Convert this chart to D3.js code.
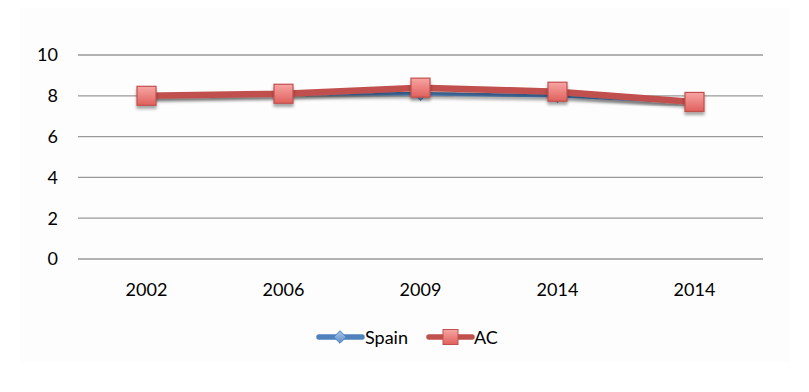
<!DOCTYPE html>
<html>
<head>
<meta charset="utf-8">
<script src="https://cdn.jsdelivr.net/npm/d3@7"></script>
<style>
body { margin: 0; background: #fff; }
text { font-family: Lato, "Open Sans", "Liberation Sans", sans-serif; fill: #000; }
</style>
</head>
<body>
<script>
var categories = ["2002", "2006", "2009", "2014", "2014 "];
var spainValues = [8.0, 8.1, 8.1, 8.0, 7.7];
var acValues = [8.0, 8.1, 8.4, 8.2, 7.7];
var yTicks = [0, 2, 4, 6, 8, 10];

var width = 809, height = 392;
var svg = d3.select("body").append("svg").attr("width", width).attr("height", height);

var defs = svg.append("defs");
var grad = defs.append("linearGradient").attr("id", "sq").attr("x1", 0).attr("y1", 0).attr("x2", 0).attr("y2", 1);
grad.append("stop").attr("offset", "0%").attr("stop-color", "#f7a6a4");
grad.append("stop").attr("offset", "100%").attr("stop-color", "#e0605c");
var dgrad = defs.append("linearGradient").attr("id", "dm").attr("x1", 0).attr("y1", 0).attr("x2", 0).attr("y2", 1);
dgrad.append("stop").attr("offset", "0%").attr("stop-color", "#a9c4e6");
dgrad.append("stop").attr("offset", "100%").attr("stop-color", "#5f8fcc");
var shadow = defs.append("filter").attr("id", "shadow").attr("x", "-50%").attr("y", "-50%").attr("width", "200%").attr("height", "200%");
shadow.append("feDropShadow").attr("dx", 0).attr("dy", 3).attr("stdDeviation", 1.6).attr("flood-color", "#000").attr("flood-opacity", 0.35);

// faint chart area background
svg.append("rect").attr("x", 20).attr("y", 8).attr("width", 770).attr("height", 354).attr("fill", "#fdfdfd");

var x = d3.scaleBand().domain(categories).range([78, 763]);
var y = d3.scaleLinear().domain([0, 10]).range([259, 55]);

// gridlines
svg.append("g").selectAll("line").data(yTicks).join("line")
    .attr("x1", 78).attr("x2", 763)
    .attr("y1", function(d) { return y(d); })
    .attr("y2", function(d) { return y(d); })
    .attr("stroke", "#999").attr("stroke-width", 1.3);

// y labels
svg.append("g").selectAll("text").data(yTicks).join("text")
    .attr("x", 58).attr("y", function(d) { return y(d); })
    .attr("dy", "0.36em").attr("text-anchor", "end")
    .attr("font-size", 18)
    .text(function(d) { return d; });

// x labels
svg.append("g").selectAll("text").data(categories).join("text")
    .attr("x", function(d) { return x(d) + x.bandwidth() / 2; })
    .attr("y", 296).attr("text-anchor", "middle")
    .attr("font-size", 18)
    .text(function(d) { return d.trim(); });

var line = d3.line()
    .x(function(d, i) { return x(categories[i]) + x.bandwidth() / 2; })
    .y(function(d) { return y(d); });

// Spain
svg.append("path").datum(spainValues).attr("d", line)
    .attr("fill", "none").attr("stroke", "#4f81bd").attr("stroke-width", 3.5)
    .attr("filter", "url(#shadow)");
svg.append("g").selectAll("path").data(spainValues).join("path")
    .attr("d", d3.symbol().type(d3.symbolDiamond2).size(120))
    .attr("transform", function(d, i) { return "translate(" + (x(categories[i]) + x.bandwidth() / 2) + "," + y(d) + ")"; })
    .attr("fill", "url(#dm)").attr("stroke", "#4f81bd").attr("stroke-width", 1);

// AC
svg.append("path").datum(acValues).attr("d", line)
    .attr("fill", "none").attr("stroke", "#c0504d").attr("stroke-width", 6.5)
    .attr("stroke-linejoin", "round")
    .attr("filter", "url(#shadow)");
svg.append("g").selectAll("rect").data(acValues).join("rect")
    .attr("x", function(d, i) { return x(categories[i]) + x.bandwidth() / 2 - 9.5; })
    .attr("y", function(d) { return y(d) - 9.5; })
    .attr("width", 19).attr("height", 19)
    .attr("fill", "url(#sq)").attr("stroke", "#c0504d").attr("stroke-width", 1.2)
    .attr("filter", "url(#shadow)");

// legend
var lg = svg.append("g");
lg.append("line").attr("x1", 319).attr("x2", 362).attr("y1", 337).attr("y2", 337)
    .attr("stroke", "#4f81bd").attr("stroke-width", 5.5).attr("stroke-linecap", "round");
lg.append("path").attr("d", d3.symbol().type(d3.symbolDiamond2).size(100))
    .attr("transform", "translate(340,337)")
    .attr("fill", "url(#dm)").attr("stroke", "#4f81bd");
lg.append("text").attr("x", 365).attr("y", 338).attr("dy", "0.36em").attr("font-size", 18).text("Spain");
lg.append("line").attr("x1", 429).attr("x2", 472).attr("y1", 337).attr("y2", 337)
    .attr("stroke", "#c0504d").attr("stroke-width", 5.5).attr("stroke-linecap", "round");
lg.append("rect").attr("x", 443).attr("y", 329.5).attr("width", 15).attr("height", 15)
    .attr("fill", "url(#sq)").attr("stroke", "#c0504d");
lg.append("text").attr("x", 474).attr("y", 338).attr("dy", "0.36em").attr("font-size", 18).text("AC");
</script>
</body>
</html>
